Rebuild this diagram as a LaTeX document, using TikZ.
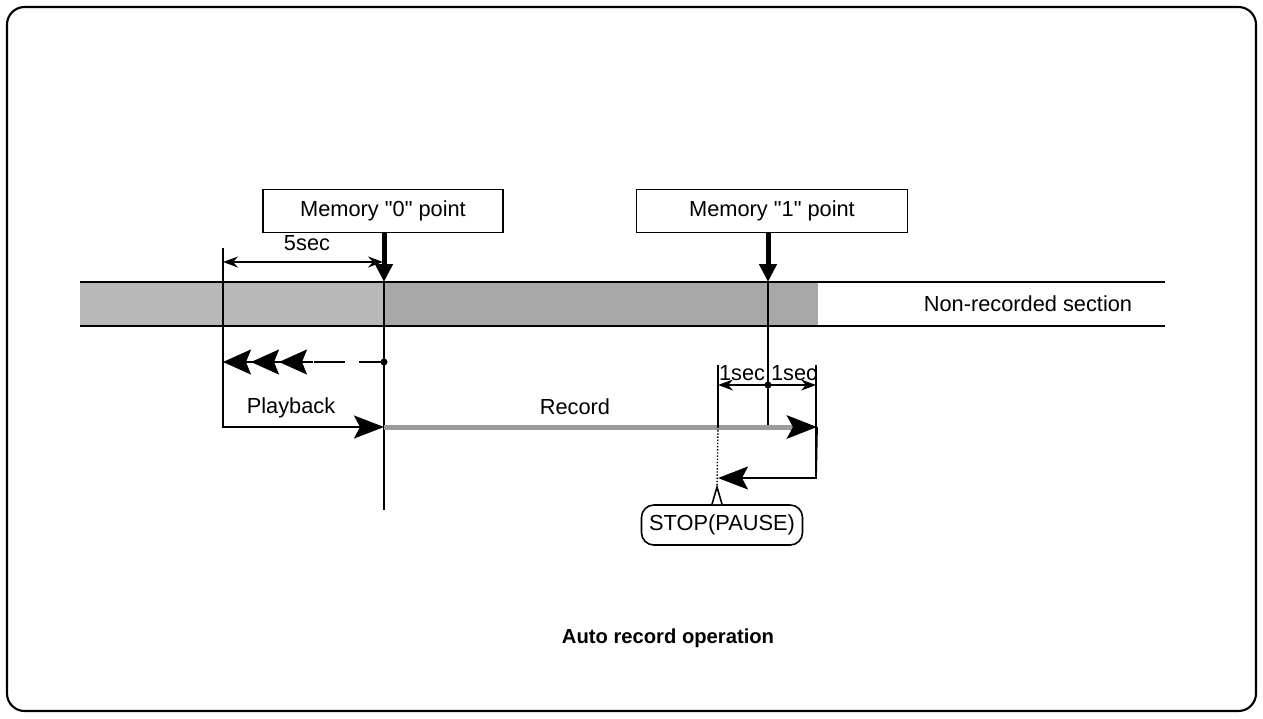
\documentclass[tikz,border=0pt]{standalone}
\usepackage{fontspec}
\setmainfont{Liberation Sans}
\usepackage{xcolor}
\definecolor{cInk}{HTML}{000000}
\definecolor{cTape}{HTML}{A8A8A8}
\definecolor{cTapeLt}{HTML}{B8B8B8}
\definecolor{cRec}{HTML}{9C9C9C}
\usetikzlibrary{arrows.meta,calc}
\tikzset{
  node-box/.style={draw=cInk,line width=0.9pt,minimum height=0.86cm,
    align=center,inner sep=0pt},
  node-call/.style={draw=cInk,line width=0.9pt,rounded corners=7pt,
    minimum height=0.8cm,minimum width=3.22cm,inner xsep=2pt,fill=white},
  node-lbl/.style={inner sep=0pt},
  line-thin/.style={line width=0.8pt,draw=cInk},
  line-tape/.style={line width=1pt,draw=cInk},
  arrow-mark/.style={-{Triangle[length=0.36cm,width=0.34cm]},line width=0.1cm,draw=cInk},
  arrow-dim/.style={{Stealth[length=0.3cm,width=0.22cm]}-{Stealth[length=0.3cm,width=0.22cm]},
    line width=0.7pt,draw=cInk},
  arrow-big/.style={-{Stealth[length=0.6cm,width=0.46cm,inset=0.12cm]},line width=1pt,draw=cInk},
  arrow-rew/.style={-{Stealth[length=0.56cm,width=0.5cm,inset=0.1cm,sep=0pt]
    Stealth[length=0.56cm,width=0.5cm,inset=0.1cm,sep=0pt]
    Stealth[length=0.56cm,width=0.5cm,inset=0.1cm,sep=0pt]},line width=1.2pt,draw=cInk},
  arrow-rec/.style={-{Stealth[length=0.6cm,width=0.46cm,inset=0.12cm,color=cInk]},
    line width=0.1cm,draw=cRec},
}

\begin{document}
\begin{tikzpicture}[x=0.02cm,y=-0.02cm,font=\fontsize{12.4}{14}\selectfont]
  \useasboundingbox (0,0) rectangle (1263,718);
  \draw[line width=1.2pt,rounded corners=10pt] (7,7) rectangle (1256,711);

  % tape
  \fill[cTapeLt] (80,282) rectangle (384,326);
  \fill[cTape] (384,282) rectangle (818,326);
  \draw[line-tape] (80,282) -- (1165,282);
  \draw[line-tape] (80,326) -- (1165,326);
  \node[node-lbl] (nonrec) at (1028,304) {Non-recorded section};

  % memory points
  \node[node-box,minimum width=4.8cm] (mem0) at (383,211) {Memory \textquotedbl0\textquotedbl{} point};
  \node[node-box,minimum width=5.42cm] (mem1) at (772,211) {Memory \textquotedbl1\textquotedbl{} point};
  \coordinate (m0) at (384,282);
  \coordinate (m1) at (768,282);
  \draw[arrow-mark] (mem0.south -| m0) -- (m0);
  \draw[arrow-mark] (mem1.south -| m1) -- (m1);

  \coordinate (p0) at (223,248);
  \coordinate (p0-play) at (223,427);
  \coordinate (m0-bot) at (384,510);
  \coordinate (m0-play) at (384,427);
  \coordinate (m1-rec) at (768,427);
  \draw[line-thin] (p0) -- (p0 |- m0);
  \draw[line-thin] (m0) -- (m0-bot);
  \draw[line-thin] (m1) -- (m1-rec);

  % 5sec
  \draw[arrow-dim] (223,262) coordinate (d5l) -- (383,262) coordinate (d5r);
  \node[node-lbl] (t5) at (307,243) {5sec};

  % rewind
  \coordinate (rw0) at (384,362);
  \coordinate (rw1) at (313,362);
  \coordinate (rw2) at (223,362);
  \fill[cInk] (rw0) circle (3.5);
  \draw[line width=1.2pt,dash pattern=on 0.5cm off 0.28cm on 0.62cm] (rw0) -- (rw1);
  \draw[arrow-rew] (rw1) -- (rw2);

  % playback / record
  \draw[arrow-big] (p0 |- m0) -- (p0-play) -- (m0-play);
  \node[node-lbl] (play) at (291,408) {Playback};
  \coordinate (rec-end) at (817,427);
  \draw[arrow-rec] (m0-play) -- (rec-end);
  \node[node-lbl] (rec) at (575,407) {Record};

  % 1sec
  \coordinate (s-l) at (718,365);
  \coordinate (s-r) at (816,365);
  \coordinate (s-dot) at (768,385);
  \draw[line-thin] (s-l) -- (s-l |- rec-end);
  \draw[line-thin] (s-r) -- (816,478) coordinate (ret);
  \draw[-{Stealth[length=0.3cm,width=0.22cm]},line width=0.7pt] (s-dot) -- (s-dot -| s-l);
  \draw[-{Stealth[length=0.3cm,width=0.22cm]},line width=0.7pt] (s-dot) -- (s-dot -| s-r);
  \fill[cInk] (s-dot) circle (3.5);
  \node[node-lbl] (s1a) at (742,373) {1sec};
  \node[node-lbl] (s1b) at (794,373) {1sec};

  % stop
  \draw[arrow-big] (rec-end) -- (ret) -- (ret -| s-l);
  \node[node-call] (stop) at (722,525) {STOP(PAUSE)};
  \coordinate (tip) at (717,487);
  \draw[line-thin,densely dotted] (s-l |- rec-end) -- (tip);
  \fill[white] (712,0 |- stop.north) -- (tip) -- (722,0 |- stop.north) -- cycle;
  \draw[line width=0.9pt] (712,0 |- stop.north) -- (tip) -- (722,0 |- stop.north);

  \node[node-lbl,font=\fontsize{11.5}{14}\selectfont\bfseries] (title) at (668,638)
    {Auto record operation};
\end{tikzpicture}
\end{document}
